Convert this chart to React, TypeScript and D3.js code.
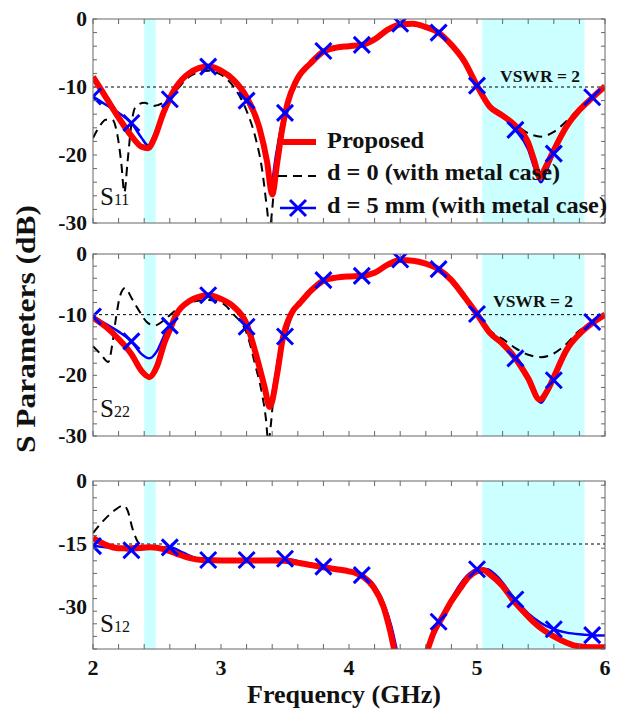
import React from 'react';
import * as d3 from 'd3';

type Pt = [number, number];

// ---------- data: [frequency GHz, dB] ----------
const s11Proposed: Pt[] = [
  [2.0, -8.5], [2.1, -11.5], [2.2, -14.5], [2.3, -17.2], [2.38, -18.8], [2.43, -19.0], [2.48, -17.5],
  [2.55, -13.8], [2.65, -10.0], [2.75, -8.0], [2.9, -7.0], [3.0, -7.6], [3.1, -9.0], [3.2, -11.5],
  [3.3, -16.0], [3.36, -21.0], [3.4, -25.8], [3.44, -21.0], [3.48, -16.0], [3.52, -12.4], [3.59, -9.0],
  [3.7, -6.5], [3.8, -4.8], [3.9, -4.2], [4.0, -4.0], [4.1, -3.8], [4.2, -3.0], [4.3, -1.6], [4.4, -0.8],
  [4.5, -0.7], [4.6, -1.2], [4.7, -2.0], [4.8, -3.8], [4.9, -6.2], [5.0, -9.8], [5.1, -12.9], [5.2, -14.2],
  [5.3, -15.7], [5.4, -18.2], [5.45, -21.0], [5.49, -23.3], [5.53, -22.0], [5.6, -19.3], [5.7, -15.8],
  [5.8, -13.4], [5.9, -11.6], [6.0, -9.9],
];
const s11D0: Pt[] = [
  [2.0, -17.5], [2.05, -15.8], [2.1, -14.8], [2.15, -14.8], [2.19, -17.0], [2.22, -21.0], [2.245, -25.5],
  [2.27, -21.0], [2.3, -15.5], [2.33, -13.0], [2.4, -12.3], [2.47, -12.8], [2.55, -12.3], [2.65, -10.5],
  [2.75, -8.5], [2.9, -7.6], [3.0, -8.2], [3.1, -10.0], [3.2, -13.5], [3.27, -17.5], [3.32, -22.0],
  [3.36, -28.0], [3.38, -31.0], [3.4, -28.0], [3.43, -21.0], [3.47, -16.0], [3.52, -12.6], [3.6, -9.2],
  [3.7, -6.5], [3.8, -4.8], [3.9, -4.2], [4.0, -4.0], [4.1, -3.8], [4.2, -3.0], [4.3, -1.6], [4.4, -0.8],
  [4.5, -0.7], [4.6, -1.2], [4.7, -2.0], [4.8, -3.8], [4.9, -6.2], [5.0, -9.8], [5.1, -12.6], [5.2, -14.0],
  [5.3, -15.5], [5.4, -16.8], [5.5, -17.3], [5.6, -16.6], [5.7, -15.0], [5.78, -13.5], [5.85, -12.3],
  [5.9, -11.6], [6.0, -10.0],
];
const s11D5: Pt[] = [
  [2.0, -11.4], [2.1, -12.6], [2.2, -13.8], [2.3, -15.3], [2.38, -17.5], [2.43, -18.6], [2.48, -17.0],
  [2.55, -13.5], [2.6, -11.8], [2.65, -10.0], [2.75, -8.0], [2.9, -7.0], [3.0, -7.6], [3.1, -9.3],
  [3.2, -12.0], [3.3, -16.5], [3.35, -20.5], [3.39, -24.3], [3.43, -20.0], [3.47, -15.8], [3.5, -13.8],
  [3.55, -11.0], [3.6, -9.0], [3.7, -6.5], [3.8, -4.7], [3.9, -4.2], [4.0, -4.0], [4.1, -3.8], [4.2, -3.0],
  [4.3, -1.6], [4.4, -0.7], [4.5, -0.7], [4.6, -1.2], [4.7, -2.0], [4.8, -3.8], [4.9, -6.2], [5.0, -9.8],
  [5.1, -12.8], [5.2, -14.3], [5.3, -16.3], [5.4, -19.2], [5.45, -22.0], [5.5, -24.0], [5.54, -22.5],
  [5.6, -19.8], [5.7, -15.8], [5.8, -13.2], [5.9, -11.5], [6.0, -10.0],
];

const s22Proposed: Pt[] = [
  [2.0, -10.5], [2.1, -12.0], [2.2, -14.0], [2.3, -16.5], [2.38, -19.3], [2.44, -20.3], [2.5, -18.5],
  [2.56, -14.5], [2.6, -12.5], [2.65, -10.0], [2.75, -7.8], [2.9, -6.8], [3.0, -7.4], [3.1, -8.7],
  [3.2, -11.5], [3.27, -16.3], [3.34, -21.9], [3.38, -25.2], [3.44, -19.6], [3.48, -14.2], [3.55, -9.8],
  [3.62, -8.0], [3.71, -5.9], [3.8, -4.4], [3.9, -3.9], [4.0, -3.7], [4.1, -3.6], [4.2, -3.1], [4.3, -1.8],
  [4.4, -1.0], [4.5, -1.1], [4.6, -1.6], [4.7, -2.5], [4.8, -4.3], [4.9, -7.0], [5.0, -9.9], [5.1, -13.0],
  [5.2, -14.8], [5.3, -17.2], [5.4, -20.5], [5.49, -24.0], [5.55, -22.5], [5.6, -20.3], [5.7, -15.8],
  [5.8, -13.2], [5.9, -11.4], [6.0, -10.0],
];
const s22D0: Pt[] = [
  [2.0, -15.2], [2.06, -16.5], [2.12, -17.8], [2.15, -15.0], [2.18, -10.5], [2.21, -7.0], [2.25, -5.6],
  [2.3, -7.2], [2.35, -9.0], [2.42, -11.2], [2.48, -11.8], [2.55, -11.0], [2.65, -9.2], [2.75, -8.0],
  [2.9, -7.6], [3.0, -8.0], [3.1, -10.0], [3.2, -13.0], [3.27, -18.5], [3.32, -23.0], [3.35, -27.0],
  [3.37, -31.0], [3.39, -28.0], [3.42, -21.0], [3.46, -15.5], [3.52, -11.5], [3.6, -8.4], [3.71, -5.9],
  [3.8, -4.4], [3.9, -3.9], [4.0, -3.7], [4.1, -3.6], [4.2, -3.1], [4.3, -1.8], [4.4, -1.0], [4.5, -1.1],
  [4.6, -1.6], [4.7, -2.5], [4.8, -4.3], [4.9, -7.0], [5.0, -9.9], [5.1, -12.6], [5.2, -14.0], [5.3, -15.5],
  [5.4, -16.6], [5.5, -17.0], [5.6, -16.4], [5.69, -15.0], [5.8, -12.6], [5.86, -11.9], [5.9, -11.4],
  [6.0, -10.0],
];
const s22D5: Pt[] = [
  [2.0, -10.3], [2.1, -11.5], [2.2, -12.8], [2.3, -14.4], [2.38, -16.5], [2.44, -17.2], [2.5, -16.0],
  [2.56, -13.3], [2.6, -11.8], [2.65, -10.0], [2.75, -7.8], [2.9, -6.8], [3.0, -7.4], [3.1, -8.8],
  [3.2, -12.0], [3.27, -16.5], [3.34, -21.5], [3.38, -24.5], [3.43, -19.5], [3.47, -15.0], [3.5, -13.6],
  [3.55, -10.3], [3.62, -8.0], [3.71, -5.9], [3.8, -4.3], [3.9, -3.9], [4.0, -3.7], [4.1, -3.6], [4.2, -3.1],
  [4.3, -1.8], [4.4, -0.9], [4.5, -1.1], [4.6, -1.6], [4.7, -2.5], [4.8, -4.3], [4.9, -7.0], [5.0, -9.9],
  [5.1, -13.0], [5.2, -14.8], [5.3, -17.2], [5.4, -20.8], [5.5, -24.5], [5.56, -22.5], [5.6, -20.8],
  [5.7, -15.8], [5.8, -13.0], [5.9, -11.2], [6.0, -10.0],
];

const s12Proposed: Pt[] = [
  [2.0, -13.6], [2.1, -15.2], [2.2, -16.0], [2.3, -16.0], [2.45, -15.8], [2.55, -16.2], [2.65, -17.3],
  [2.75, -18.3], [2.85, -18.8], [3.0, -18.9], [3.2, -18.9], [3.4, -18.9], [3.5, -19.0], [3.62, -19.6],
  [3.77, -20.4], [3.9, -21.0], [4.0, -21.5], [4.06, -22.0], [4.12, -23.0], [4.19, -25.2], [4.27, -30.0],
  [4.32, -35.5], [4.36, -41.0], [4.48, -50.0], [4.61, -40.5], [4.66, -36.2], [4.73, -32.4], [4.8, -28.6],
  [4.87, -25.5], [4.93, -23.0], [5.0, -21.5], [5.05, -21.2], [5.1, -22.2], [5.2, -25.0], [5.28, -28.3],
  [5.36, -31.0], [5.44, -33.5], [5.52, -35.5], [5.6, -37.0], [5.7, -38.5], [5.78, -39.3], [5.9, -39.6],
  [6.0, -39.6],
];
const s12D0: Pt[] = [
  [2.0, -12.4], [2.08, -9.5], [2.16, -7.2], [2.24, -5.8], [2.27, -7.0], [2.31, -11.5], [2.35, -14.5],
  [2.4, -15.8], [2.45, -15.8], [2.55, -16.2], [2.65, -17.3], [2.75, -18.3], [2.85, -18.8], [3.0, -18.9],
  [3.2, -18.9], [3.4, -18.9], [3.5, -19.0], [3.62, -19.6], [3.77, -20.4], [3.9, -21.0], [4.0, -21.5],
  [4.06, -22.0], [4.12, -23.0], [4.19, -25.2], [4.27, -30.0], [4.32, -35.5], [4.36, -41.0], [4.48, -50.0],
  [4.61, -40.5], [4.66, -36.2], [4.73, -32.4], [4.8, -28.6], [4.87, -25.5], [4.93, -23.0], [5.0, -21.5],
  [5.05, -21.2], [5.1, -22.2], [5.2, -25.0], [5.28, -28.3], [5.36, -31.0], [5.44, -33.5], [5.52, -35.5],
  [5.6, -37.0], [5.7, -38.5], [5.78, -39.3], [5.9, -39.6], [6.0, -39.6],
];
const s12D5: Pt[] = [
  [2.0, -15.5], [2.1, -15.8], [2.2, -16.2], [2.3, -16.5], [2.45, -16.0], [2.6, -15.8], [2.7, -17.0],
  [2.8, -18.3], [2.9, -18.8], [3.2, -18.8], [3.5, -18.5], [3.62, -19.2], [3.8, -20.4], [3.95, -21.2],
  [4.1, -22.4], [4.19, -24.5], [4.27, -29.0], [4.33, -34.5], [4.38, -41.0], [4.48, -50.0], [4.6, -40.5],
  [4.65, -36.5], [4.7, -33.5], [4.8, -28.0], [4.87, -24.5], [4.95, -21.8], [5.0, -21.0], [5.08, -21.0],
  [5.15, -22.5], [5.3, -28.2], [5.4, -31.5], [5.5, -33.8], [5.6, -35.3], [5.7, -36.1], [5.8, -36.5],
  [5.9, -36.7], [6.0, -36.8],
];

const markerFreqs = [2.0, 2.3, 2.6, 2.9, 3.2, 3.5, 3.8, 4.1, 4.4, 4.7, 5.0, 5.3, 5.6, 5.9];
const bands: Pt[] = [[2.4, 2.49], [5.04, 5.84]];
const xTickLabels = [2, 3, 4, 5, 6];
const returnLossTicks = [0, -10, -20, -30];
const isolationTicks = [0, -15, -30];
const legendLabels = ['Proposed', 'd = 0 (with metal case)', 'd = 5 mm (with metal case)'];

const panels = [
  { id: 's11', top: 19, bottom: 223, domain: [-30, 0], ticks: returnLossTicks, minorStep: 2, ref: -10,
    sub: '11', red: s11Proposed, black: s11D0, blue: s11D5, vswr: { x: 500, y: 82 }, labelY: 205 },
  { id: 's22', top: 254, bottom: 436, domain: [-30, 0], ticks: returnLossTicks, minorStep: 2, ref: -10,
    sub: '22', red: s22Proposed, black: s22D0, blue: s22D5, vswr: { x: 493, y: 307 }, labelY: 417 },
  { id: 's12', top: 481, bottom: 649, domain: [-40, 0], ticks: isolationTicks, minorStep: 3, ref: -15,
    sub: '12', red: s12Proposed, black: s12D0, blue: s12D5, vswr: null, labelY: 632 },
];

const SERIF = '"Liberation Serif", "Times New Roman", serif';
const L = 93, R = 605;

const xMark = 'M-8,-8L8,8M-8,8L8,-8';

export default function App() {
  const x = d3.scaleLinear().domain([2, 6]).range([L, R]);
  const xMinor = d3.range(2, 6.0001, 0.2);

  return (
    <svg width={618} height={709} viewBox="0 0 618 709"
      style={{ position: 'absolute', left: 0, top: 0, background: '#fff' }}>
      <defs>
        {panels.map(p => (
          <clipPath id={`clip-${p.id}`} key={p.id}>
            <rect x={L} y={p.top} width={R - L} height={p.bottom - p.top} />
          </clipPath>
        ))}
      </defs>
      {panels.map(p => {
        const y = d3.scaleLinear().domain(p.domain).range([p.bottom, p.top]);
        const line = d3.line<Pt>().x(d => x(d[0])).y(d => y(d[1])).curve(d3.curveMonotoneX);
        const yMinor = d3.range(p.domain[0], p.domain[1] + 0.001, p.minorStep);
        const markers = p.blue.filter(d => markerFreqs.some(m => Math.abs(m - d[0]) < 1e-6));
        return (
          <g key={p.id}>
            {bands.map((b, i) => (
              <rect key={i} x={x(b[0])} y={p.top} width={x(b[1]) - x(b[0])} height={p.bottom - p.top} fill="#ccffff" />
            ))}
            <line x1={L} x2={R} y1={y(p.ref)} y2={y(p.ref)} stroke="#000" strokeWidth={1} strokeDasharray="3,3" />
            <g clipPath={`url(#clip-${p.id})`}>
              <path d={line(p.blue) || ''} fill="none" stroke="#0000ff" strokeWidth={2.5} />
              <path d={line(p.black) || ''} fill="none" stroke="#000" strokeWidth={2} strokeDasharray="9,6" />
              <path d={line(p.red) || ''} fill="none" stroke="#ff0000" strokeWidth={6} strokeLinejoin="round" />
              {markers.map((d, i) => (
                <path key={i} d={xMark} transform={`translate(${x(d[0])},${y(d[1])})`} stroke="#0000ff" strokeWidth={3} fill="none" />
              ))}
            </g>
            {/* frame */}
            <rect x={L} y={p.top} width={R - L} height={p.bottom - p.top} fill="none" stroke="#666" strokeWidth={1} />
            {xMinor.map((t, i) => (
              <g key={`xt${i}`}>
                <line x1={x(t)} x2={x(t)} y1={p.top} y2={p.top + 5} stroke="#666" />
                <line x1={x(t)} x2={x(t)} y1={p.bottom} y2={p.bottom - 5} stroke="#666" />
              </g>
            ))}
            {yMinor.map((t, i) => (
              <g key={`yt${i}`}>
                <line x1={L} x2={L + 4} y1={y(t)} y2={y(t)} stroke="#666" />
                <line x1={R} x2={R - 4} y1={y(t)} y2={y(t)} stroke="#666" />
              </g>
            ))}
            {p.ticks.map(t => (
              <text key={`yl${t}`} x={87} y={y(t) + 7} textAnchor="end" fontFamily={SERIF} fontWeight="bold" fontSize={21.5} fill="#111">
                {t}
              </text>
            ))}
            {p.vswr && (
              <text x={p.vswr.x} y={p.vswr.y} fontFamily={SERIF} fontWeight="bold" fontSize={17.5}
                textLength={80} lengthAdjust="spacingAndGlyphs" fill="#111">VSWR = 2</text>
            )}
            <text x={100} y={p.labelY} fontFamily={SERIF} fontSize={25} fill="#111">
              S<tspan fontSize={16}>{p.sub}</tspan>
            </text>
          </g>
        );
      })}
      {/* x tick labels (bottom panel) */}
      {xTickLabels.map(t => (
        <text key={`xl${t}`} x={x(t)} y={675} textAnchor="middle" fontFamily={SERIF} fontWeight="bold" fontSize={22} fill="#111">{t}</text>
      ))}
      <text x={344} y={703} textAnchor="middle" fontFamily={SERIF} fontWeight="bold" fontSize={26} fill="#111">Frequency (GHz)</text>
      <text transform="translate(35,329) rotate(-90)" textAnchor="middle" fontFamily={SERIF} fontWeight="bold" fontSize={28}
        textLength={248} lengthAdjust="spacingAndGlyphs" fill="#111">S  Parameters (dB)</text>
      {/* legend */}
      <g>
        <line x1={283} x2={316} y1={142} y2={142} stroke="#ff0000" strokeWidth={6} />
        <line x1={278} x2={316} y1={176} y2={176} stroke="#000" strokeWidth={2} strokeDasharray="9,6" />
        <line x1={280} x2={316} y1={208} y2={208} stroke="#0000ff" strokeWidth={2.5} />
        <path d={xMark} transform="translate(298,208)" stroke="#0000ff" strokeWidth={3} fill="none" />
        <text x={327} y={148} fontFamily={SERIF} fontWeight="bold" fontSize={23} textLength={97} lengthAdjust="spacingAndGlyphs" fill="#111">{legendLabels[0]}</text>
        <text x={327} y={180} fontFamily={SERIF} fontWeight="bold" fontSize={23} textLength={233} lengthAdjust="spacingAndGlyphs" fill="#111">{legendLabels[1]}</text>
        <text x={327} y={213} fontFamily={SERIF} fontWeight="bold" fontSize={23} textLength={280} lengthAdjust="spacingAndGlyphs" fill="#111">{legendLabels[2]}</text>
      </g>
    </svg>
  );
}
